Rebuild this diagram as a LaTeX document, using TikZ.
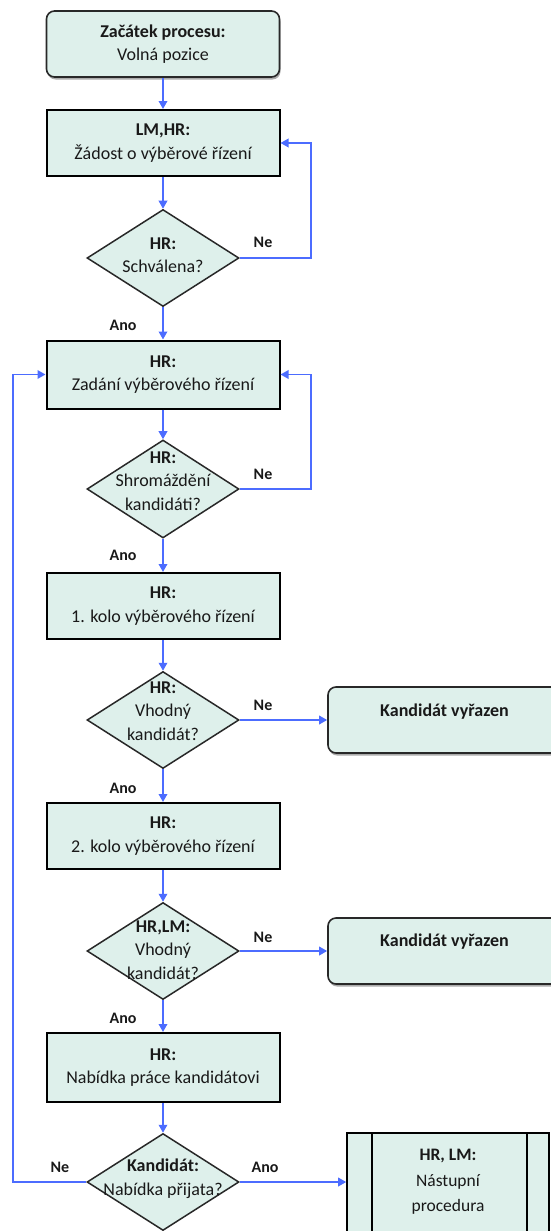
\documentclass[tikz,border=0pt]{standalone}
\usepackage{fontspec}
\setmainfont{Carlito}
\usetikzlibrary{shapes.geometric,arrows.meta,calc,shadows}
\definecolor{boxfill}{RGB}{222,240,235}
\definecolor{flow}{RGB}{76,108,255}
\definecolor{edgegray}{RGB}{40,40,40}
\definecolor{ink}{RGB}{25,25,25}

\begin{document}
\begin{tikzpicture}[x=1pt,y=-1pt,
  every node/.style={font=\fontsize{18}{23.5}\selectfont, text=ink},
  procbox/.style={rectangle, draw=black, line width=2pt, fill=boxfill,
    minimum width=233pt, minimum height=66pt, inner sep=0pt, align=center},
  termbox/.style={rectangle, rounded corners=8pt, draw=edgegray, line width=1.6pt,
    fill=boxfill, minimum width=233pt, minimum height=66pt, inner sep=0pt,
    align=center, drop shadow={shadow xshift=1pt, shadow yshift=-2.5pt, fill=black!55, opacity=0.6}},
  decision/.style={diamond, draw=edgegray, line width=1.5pt, fill=boxfill,
    minimum width=152pt, minimum height=97pt, inner sep=0pt},
  dtext/.style={align=center, inner sep=0pt},
  lab/.style={font=\bfseries\fontsize{16}{18}\selectfont, inner sep=0pt},
  flowline/.style={draw=flow, line width=1.8pt, -{Triangle[length=8pt,width=8.5pt]}},
]
\useasboundingbox (0,0) rectangle (551,1231);
\clip (0,0) rectangle (551,1231);

% main column
\node[termbox] (start) at (163,44) {\textbf{Začátek procesu:}\\Volná pozice};
\node[procbox] (b1) at (163,143) {\textbf{LM,HR:}\\Žádost o výběrové řízení};
\node[decision] (d1) at (163,258) {};
\node[dtext] (t1) at ($(d1)+(0,-3)$) {\textbf{HR:}\\Schválena?};
\node[procbox, minimum height=68pt] (b2) at (163,374.5) {\textbf{HR:}\\Zadání výběrového řízení};
\node[decision, minimum height=98pt] (d2) at (163,489) {};
\node[dtext] (t2) at ($(d2)+(0,-8)$) {\textbf{HR:}\\Shromáždění\\kandidáti?};
\node[procbox] (b3) at (163,606) {\textbf{HR:}\\1. kolo výběrového řízení};
\node[decision] (d3) at (163,720) {};
\node[dtext] (t3) at ($(d3)+(0,-9)$) {\textbf{HR:}\\Vhodný\\kandidát?};
\node[procbox] (b4) at (163,836) {\textbf{HR:}\\2. kolo výběrového řízení};
\node[decision] (d4) at (163,951) {};
\node[dtext] (t4) at ($(d4)+(0,-1)$) {\textbf{HR,LM:}\\Vhodný\\kandidát?};
\node[procbox, minimum height=69pt] (b5) at (163,1067.5) {\textbf{HR:}\\Nabídka práce kandidátovi};
\node[decision] (d5) at (163,1182) {};
\node[dtext] (t5) at ($(d5)+(0,-3.5)$) {\textbf{Kandidát:}\\Nabídka přijata?};

% side outcomes
\node[termbox] (r1) at (444.5,720) {};
\node[font=\bfseries\fontsize{18}{23.5}\selectfont] (r1t) at ($(r1)+(0,-8)$) {Kandidát vyřazen};
\node[termbox] (r2) at (444.5,951) {};
\node[font=\bfseries\fontsize{18}{23.5}\selectfont] (r2t) at ($(r2)+(0,-9)$) {Kandidát vyřazen};

% predefined process
\node[rectangle, draw=black, line width=1.6pt, fill=boxfill, minimum width=202pt,
  minimum height=120pt, inner sep=0pt] (p) at (448,1193) {};
\draw[black, line width=1.6pt] ([xshift=26pt]p.north west) -- ([xshift=26pt]p.south west);
\draw[black, line width=1.6pt] ([xshift=-23pt]p.north east) -- ([xshift=-23pt]p.south east);
\node[align=center, inner sep=0pt, font=\fontsize{17.5}{25.5}\selectfont] (pt) at ($(p.north)+(0,50)$)
  {\textbf{HR, LM:}\\Nástupní\\procedura};

% loop-back columns
\coordinate (cr) at (311,0);
\coordinate (cl) at (13,0);

% connectors
\draw[flowline] (start) -- (b1);
\draw[flowline] (b1) -- (d1);
\draw[flowline] (d1.east) -- (d1.east -| cr) |- (b1.east);
\draw[flowline] (d1) -- (b2);
\draw[flowline] (b2) -- (d2);
\draw[flowline] (d2.east) -- (d2.east -| cr) |- (b2.east);
\draw[flowline] (d2) -- (b3);
\draw[flowline] (b3) -- (d3);
\draw[flowline] (d3.east) -- (r1.west);
\draw[flowline] (d3) -- (b4);
\draw[flowline] (b4) -- (d4);
\draw[flowline] (d4.east) -- (r2.west);
\draw[flowline] (d4) -- (b5);
\draw[flowline] (b5) -- (d5);
\draw[flowline] (d5.east) -- (d5.east -| p.west);
\draw[flowline] (d5.west) -- (d5.west -| cl) |- (b2.west);

% branch labels
\node[lab] (n1) at (263,242) {Ne};
\node[lab] (a1) at (123,325) {Ano};
\node[lab] (n2) at (263,474) {Ne};
\node[lab] (a2) at (123,555) {Ano};
\node[lab] (n3) at (263,705) {Ne};
\node[lab] (a3) at (123,788) {Ano};
\node[lab] (n4) at (263,937) {Ne};
\node[lab] (a4) at (123,1018) {Ano};
\node[lab] (n5) at (60,1167) {Ne};
\node[lab] (a5) at (265,1167) {Ano};
\end{tikzpicture}
\end{document}
